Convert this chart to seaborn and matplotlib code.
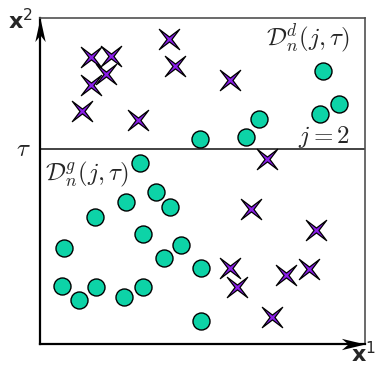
import numpy as np
import pandas as pd
import matplotlib
matplotlib.use("Agg")
import matplotlib.pyplot as plt
from matplotlib.path import Path
import seaborn as sns

# Feature-space coordinates (x1, x2) of the two classes
circle_x1 = [0.308, 0.357, 0.399, 0.264, 0.170, 0.317, 0.434, 0.381, 0.073, 0.067,
             0.121, 0.173, 0.258, 0.316, 0.494, 0.494,
             0.872, 0.919, 0.862, 0.674, 0.634, 0.493]
circle_x2 = [0.554, 0.465, 0.420, 0.437, 0.390, 0.336, 0.303, 0.263, 0.294, 0.178,
             0.135, 0.176, 0.143, 0.174, 0.234, 0.071,
             0.837, 0.735, 0.706, 0.689, 0.634, 0.628]
cross_x1 = [0.158, 0.219, 0.203, 0.157, 0.129, 0.301, 0.396, 0.414, 0.584,
            0.698, 0.650, 0.848, 0.584, 0.607, 0.756, 0.827, 0.715]
cross_x2 = [0.879, 0.883, 0.829, 0.794, 0.716, 0.687, 0.937, 0.854, 0.810,
            0.567, 0.415, 0.350, 0.234, 0.176, 0.212, 0.230, 0.082]
tau = 0.598  # split threshold on feature j = 2

circles = pd.DataFrame({"x1": circle_x1, "x2": circle_x2, "cls": "circle"})
crosses = pd.DataFrame({"x1": cross_x1, "x2": cross_x2, "cls": "cross"})

sns.set_style("white")
plt.rcParams["mathtext.fontset"] = "cm"

W, H = 377, 366
fig = plt.figure(figsize=(W / 100, H / 100), dpi=100)
ax = fig.add_axes([40 / W, 22 / H, 325 / W, 326 / H])

teal = "#0dd3a7"
purple = "#8b1deb"

# four-pointed star for the second class
star = Path([(1, 1), (0, 0.24), (-1, 1), (-0.24, 0), (-1, -1), (0, -0.24),
             (1, -1), (0.24, 0), (1, 1)],
            [Path.MOVETO] + [Path.LINETO] * 7 + [Path.CLOSEPOLY])

sns.scatterplot(data=circles, x="x1", y="x2", ax=ax, color=teal, marker="o",
                s=150, edgecolor="black", linewidth=1.0, legend=False, zorder=3)
sns.scatterplot(data=crosses, x="x1", y="x2", ax=ax, color=purple, marker=star,
                s=215, edgecolor="black", linewidth=0.9, legend=False, zorder=3)

ax.axhline(tau, color="#222222", lw=1.2, zorder=1)

ax.set_xlim(0, 1)
ax.set_ylim(0, 1)
ax.set_xticks([])
ax.set_yticks([])
ax.set_xlabel("")
ax.set_ylabel("")
for side in ("left", "bottom"):
    ax.spines[side].set_color("black")
    ax.spines[side].set_linewidth(1.6)
for side in ("top", "right"):
    ax.spines[side].set_color("#505050")
    ax.spines[side].set_linewidth(1.2)

# stealth arrowheads on the axes
up_head = Path([(0, 0), (-0.22, -1), (0, -0.72), (0.22, -1), (0, 0)],
               [Path.MOVETO, Path.LINETO, Path.LINETO, Path.LINETO, Path.CLOSEPOLY])
right_head = Path([(0, 0), (-1, 0.24), (-0.72, 0), (-1, -0.24), (0, 0)],
                  [Path.MOVETO, Path.LINETO, Path.LINETO, Path.LINETO, Path.CLOSEPOLY])
ax.plot([0], [1], marker=up_head, ms=34, color="black", mew=0,
        transform=ax.transAxes, clip_on=False, zorder=5)
ax.plot([1], [0], marker=right_head, ms=34, color="black", mew=0,
        transform=ax.transAxes, clip_on=False, zorder=5)

ax.text(0.954, 0.937, r"$\mathcal{D}_n^d(j,\tau)$", transform=ax.transAxes,
        ha="right", va="center", fontsize=18)
ax.text(0.954, 0.636, r"$j=2$", transform=ax.transAxes,
        ha="right", va="center", fontsize=18)
ax.text(0.015, 0.52, r"$\mathcal{D}_n^g(j,\tau)$", transform=ax.transAxes,
        ha="left", va="center", fontsize=18)
ax.text(-0.028, tau, r"$\tau$", transform=ax.get_yaxis_transform(),
        ha="right", va="center", fontsize=18)

fig.text(8 / W, 1 - 29 / H, r"$\mathbf{x}^2$", ha="left", va="baseline",
         fontsize=16, math_fontfamily="dejavusans")
fig.text(351 / W, 4 / H, r"$\mathbf{x}^1$", ha="left", va="baseline",
         fontsize=16, math_fontfamily="dejavusans")

fig.savefig("out.png", dpi=100)
